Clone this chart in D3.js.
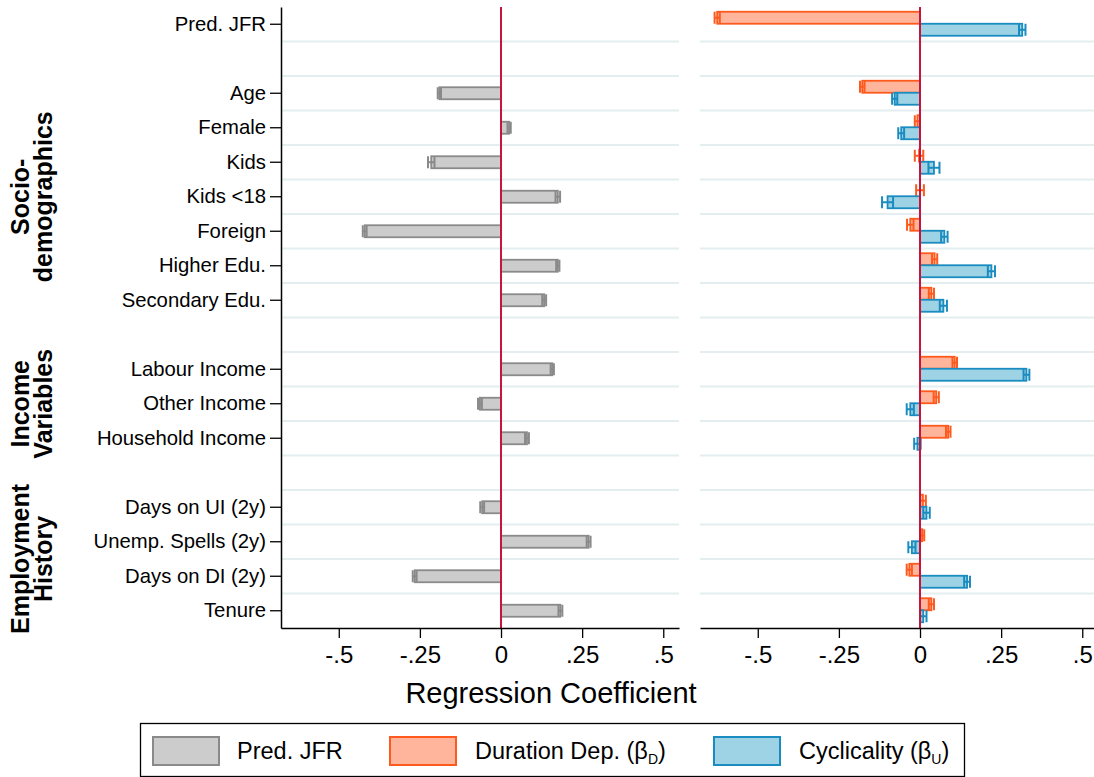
<!DOCTYPE html>
<html lang="en">
<head>
<meta charset="UTF-8">
<title>Regression Coefficient</title>
<script src="https://cdnjs.cloudflare.com/ajax/libs/d3/7.8.5/d3.min.js"></script>
<style>
    html, body {
        margin: 0;
        padding: 0;
        background: #fff;
    }
    svg {
        display: block;
    }
    text {
        font-family: "Liberation Sans", Arial, sans-serif;
        fill: #000;
    }
</style>
</head>
<body>
<svg id="chart" width="1094" height="777"></svg>

<script>
// rows top to bottom, "" = empty spacer row
var rowLabels = ["Pred. JFR", "", "Age", "Female", "Kids", "Kids <18", "Foreign",
    "Higher Edu.", "Secondary Edu.", "", "Labour Income", "Other Income",
    "Household Income", "", "Days on UI (2y)", "Unemp. Spells (2y)",
    "Days on DI (2y)", "Tenure"];

var groupNames = [["Socio-", "demographics"], ["Income", "Variables"], ["Employment", "History"]];
var groupFirst = [2, 10, 14];
var groupLast = [8, 12, 17];

// left panel: predicted job finding rate
var predJFR   = [null, null, -0.19, 0.025, -0.215, 0.175, -0.42, 0.175, 0.133, null, 0.158, -0.065, 0.08, null, -0.058, 0.27, -0.266, 0.183];
var predJFRci = [null, null, 0.005, 0.005, 0.01, 0.007, 0.006, 0.005, 0.006, null, 0.005, 0.006, 0.006, null, 0.006, 0.006, 0.006, 0.006];

// right panel: duration dependence and cyclicality
var durDep    = [-0.625, null, -0.178, -0.008, -0.003, 0.0, -0.03, 0.045, 0.035, null, 0.107, 0.05, 0.087, null, 0.009, 0.007, -0.033, 0.035];
var durDepCi  = [0.008, null, 0.007, 0.008, 0.013, 0.012, 0.01, 0.008, 0.008, null, 0.007, 0.008, 0.007, null, 0.009, 0.006, 0.008, 0.008];
var cyclic    = [0.315, null, -0.078, -0.058, 0.043, -0.1, 0.075, 0.22, 0.072, null, 0.328, -0.03, -0.008, null, 0.02, -0.025, 0.145, 0.01];
var cyclicCi  = [0.01, null, 0.008, 0.009, 0.017, 0.017, 0.01, 0.011, 0.011, null, 0.009, 0.011, 0.01, null, 0.01, 0.011, 0.009, 0.01];

var xTicks = [-0.5, -0.25, 0, 0.25, 0.5];
var xTickLabels = ["-.5", "-.25", "0", ".25", ".5"];

var legendLabels = ["Pred. JFR", "Duration Dep. (\u03B2", "Cyclicality (\u03B2"];
var legendSubs = [null, "D", "U"];

var colGray = {fill: "#cccccc", stroke: "#8a8a8a"};
var colOrange = {fill: "#ffb59b", stroke: "#ff5a1e"};
var colBlue = {fill: "#9dd3e4", stroke: "#1a8cc0"};

var svg = d3.select("#chart");
var plotTop = 7, plotBottom = 628;

var y = d3.scaleBand()
    .domain(d3.range(rowLabels.length))
    .range([plotTop, plotBottom]);

var xDomain = [-0.678, 0.5485];
var xLeft = d3.scaleLinear().domain(xDomain).range([281, 679]);
var xRight = d3.scaleLinear().domain(xDomain).range([700, 1098]);

function center(i) { return y(i) + y.bandwidth() / 2; }

function drawPanel(x, series) {
    var g = svg.append("g");
    var r = x.range();

    // light horizontal grid between rows
    g.selectAll(".grid")
        .data(d3.range(1, rowLabels.length))
        .enter().append("line")
        .attr("x1", r[0]).attr("x2", r[1])
        .attr("y1", function(d) { return y(d); })
        .attr("y2", function(d) { return y(d); })
        .attr("stroke", "#e4edf0")
        .attr("stroke-width", 2);

    series.forEach(function(s) {
        var rows = d3.range(rowLabels.length).filter(function(i) { return s.values[i] !== null; });
        var bg = g.append("g");

        bg.selectAll("rect")
            .data(rows)
            .enter().append("rect")
            .attr("x", function(i) { return Math.min(x(0), x(s.values[i])); })
            .attr("width", function(i) { return Math.abs(x(s.values[i]) - x(0)); })
            .attr("y", function(i) { return center(i) + s.off; })
            .attr("height", 12)
            .attr("fill", s.col.fill)
            .attr("stroke", s.col.stroke)
            .attr("stroke-width", 1.8);

        // confidence intervals
        var eb = bg.selectAll(".ci")
            .data(rows)
            .enter().append("g")
            .attr("stroke", s.col.stroke)
            .attr("stroke-width", 2);
        eb.append("line")
            .attr("x1", function(i) { return x(s.values[i] - s.ci[i]); })
            .attr("x2", function(i) { return x(s.values[i] + s.ci[i]); })
            .attr("y1", function(i) { return center(i) + s.off + 6; })
            .attr("y2", function(i) { return center(i) + s.off + 6; });
        [-1, 1].forEach(function(sign) {
            eb.append("line")
                .attr("x1", function(i) { return x(s.values[i] + sign * s.ci[i]); })
                .attr("x2", function(i) { return x(s.values[i] + sign * s.ci[i]); })
                .attr("y1", function(i) { return center(i) + s.off; })
                .attr("y2", function(i) { return center(i) + s.off + 12; });
        });
    });

    // zero line
    g.append("line")
        .attr("x1", x(0)).attr("x2", x(0))
        .attr("y1", plotTop).attr("y2", plotBottom)
        .attr("stroke", "#c8143c")
        .attr("stroke-width", 2);

    var ax = g.append("g")
        .attr("transform", "translate(0," + plotBottom + ")")
        .call(d3.axisBottom(x)
            .tickValues(xTicks)
            .tickFormat(function(d, i) { return xTickLabels[i]; })
            .tickSize(10)
            .tickSizeOuter(0)
            .tickPadding(8));
    ax.select(".domain").attr("stroke", "#000").attr("stroke-width", 1.5);
    ax.selectAll(".tick line").attr("stroke", "#000").attr("stroke-width", 1.3);
    ax.selectAll("text").attr("font-size", 24).attr("font-family", "Liberation Sans, Arial, sans-serif");
}

drawPanel(xLeft, [
    {values: predJFR, ci: predJFRci, col: colGray, off: -6}
]);
drawPanel(xRight, [
    {values: durDep, ci: durDepCi, col: colOrange, off: -12.5},
    {values: cyclic, ci: cyclicCi, col: colBlue, off: -0.5}
]);

// y axis on the left panel
var labelled = d3.range(rowLabels.length).filter(function(i) { return rowLabels[i] !== ""; });
var ay = svg.append("g")
    .attr("transform", "translate(281,0)")
    .call(d3.axisLeft(y)
        .tickValues(labelled)
        .tickFormat(function(i) { return rowLabels[i]; })
        .tickSize(11)
        .tickSizeOuter(0)
        .tickPadding(4));
ay.select(".domain").attr("stroke", "#000").attr("stroke-width", 1.5);
ay.selectAll(".tick line").attr("stroke", "#000").attr("stroke-width", 1.3);
ay.selectAll("text").attr("font-size", 20.3).attr("font-family", "Liberation Sans, Arial, sans-serif");

// group titles
groupNames.forEach(function(lines, k) {
    var yc = (center(groupFirst[k]) + center(groupLast[k])) / 2;
    [29, 52].forEach(function(bx, j) {
        svg.append("text")
            .attr("transform", "translate(" + bx + "," + yc + ") rotate(-90)")
            .attr("text-anchor", "middle")
            .attr("font-size", 25)
            .attr("font-weight", "bold")
            .text(lines[j]);
    });
});

svg.append("text")
    .attr("x", 551).attr("y", 703)
    .attr("text-anchor", "middle")
    .attr("font-size", 29)
    .text("Regression Coefficient");

// legend
svg.append("rect")
    .attr("x", 140.5).attr("y", 723.5)
    .attr("width", 824).attr("height", 53)
    .attr("fill", "#fff")
    .attr("stroke", "#000")
    .attr("stroke-width", 1.3);

var legCols = [colGray, colOrange, colBlue];
var swatchX = [153, 390, 714];
var textX = [237, 475, 799];
legendLabels.forEach(function(lab, k) {
    svg.append("rect")
        .attr("x", swatchX[k]).attr("y", 737)
        .attr("width", 66).attr("height", 28)
        .attr("fill", legCols[k].fill)
        .attr("stroke", legCols[k].stroke)
        .attr("stroke-width", 2);
    var t = svg.append("text")
        .attr("x", textX[k]).attr("y", 759)
        .attr("font-size", 23.5)
        .text(lab);
    if (legendSubs[k]) {
        t.append("tspan").attr("font-size", 14).attr("dy", 5).text(legendSubs[k]);
        t.append("tspan").attr("dy", -5).text(")");
    }
});
</script>
</body>
</html>
